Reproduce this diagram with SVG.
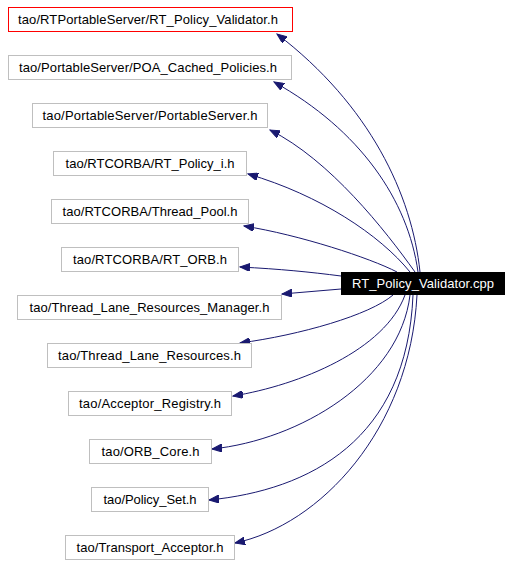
<svg xmlns="http://www.w3.org/2000/svg" width="512" height="565" viewBox="0 0 512 565">
<style>
.n rect{fill:#fff;stroke:#bfbfbf;stroke-width:1}
.n text{font-family:"Liberation Sans",Arial,sans-serif;font-size:13px;fill:#000;text-anchor:middle}
#n0 rect{stroke:#ff0000}
#src rect{fill:#000;stroke:#000}
#src text{fill:#fff}
.e path{fill:none;stroke:#191970;stroke-width:1}
</style>
<defs>
<marker id="ah" markerUnits="userSpaceOnUse" markerWidth="11" markerHeight="8" refX="10" refY="4" orient="auto">
<path d="M0,0 L10,4 L0,8 z" fill="#191970" stroke="#191970" stroke-width="1"/>
</marker>
</defs>
<g id="edges" class="e">
<path marker-end="url(#ah)" d="M420,272 C412,195 370,105 277,34"/>
<path marker-end="url(#ah)" d="M418,272 C408,200 360,130 274,82"/>
<path marker-end="url(#ah)" d="M415,272 C385,230 330,160 270,130"/>
<path marker-end="url(#ah)" d="M410,272 C380,235 320,195 248,174"/>
<path marker-end="url(#ah)" d="M397,272 C370,258 300,235 244,226"/>
<path marker-end="url(#ah)" d="M341,276 C310,272 280,269 240,267"/>
<path marker-end="url(#ah)" d="M341,289 L282,294"/>
<path marker-end="url(#ah)" d="M393,295 C370,315 300,335 240,343"/>
<path marker-end="url(#ah)" d="M405,295 C385,350 300,385 233,396"/>
<path marker-end="url(#ah)" d="M410,295 C400,380 300,440 212,449"/>
<path marker-end="url(#ah)" d="M413,295 C407,440 310,490 209,500"/>
<path marker-end="url(#ah)" d="M417,295 C410,430 320,525 235,543"/>
</g>
<g id="n0" class="n"><rect x="8.5" y="7.5" width="284" height="24"/><text x="148" y="24" textLength="260">tao/RTPortableServer/RT_Policy_Validator.h</text></g>
<g id="n1" class="n"><rect x="8.5" y="55.5" width="283" height="24"/><text x="148" y="72" textLength="258">tao/PortableServer/POA_Cached_Policies.h</text></g>
<g id="n2" class="n"><rect x="32.5" y="103.5" width="235" height="24"/><text x="150" y="120" textLength="215">tao/PortableServer/PortableServer.h</text></g>
<g id="n3" class="n"><rect x="53.5" y="151.5" width="193" height="24"/><text x="150" y="168" textLength="169">tao/RTCORBA/RT_Policy_i.h</text></g>
<g id="n4" class="n"><rect x="51.5" y="199.5" width="197" height="24"/><text x="150" y="216" textLength="175">tao/RTCORBA/Thread_Pool.h</text></g>
<g id="n5" class="n"><rect x="61.5" y="247.5" width="177" height="24"/><text x="150" y="264" textLength="154">tao/RTCORBA/RT_ORB.h</text></g>
<g id="n6" class="n"><rect x="17.5" y="295.5" width="264" height="24"/><text x="149.5" y="312" textLength="240">tao/Thread_Lane_Resources_Manager.h</text></g>
<g id="n7" class="n"><rect x="47.5" y="343.5" width="204" height="24"/><text x="149.5" y="360" textLength="183">tao/Thread_Lane_Resources.h</text></g>
<g id="n8" class="n"><rect x="68.5" y="391.5" width="163" height="24"/><text x="150" y="408" textLength="142">tao/Acceptor_Registry.h</text></g>
<g id="n9" class="n"><rect x="89.5" y="439.5" width="122" height="24"/><text x="150.5" y="456" textLength="98">tao/ORB_Core.h</text></g>
<g id="n10" class="n"><rect x="91.5" y="487.5" width="117" height="24"/><text x="150" y="504" textLength="93">tao/Policy_Set.h</text></g>
<g id="n11" class="n"><rect x="65.5" y="535.5" width="169" height="24"/><text x="150" y="552" textLength="147">tao/Transport_Acceptor.h</text></g>
<g id="src" class="n"><rect x="341.5" y="272.5" width="163" height="22"/><text x="423" y="288" textLength="142">RT_Policy_Validator.cpp</text></g>
</svg>
